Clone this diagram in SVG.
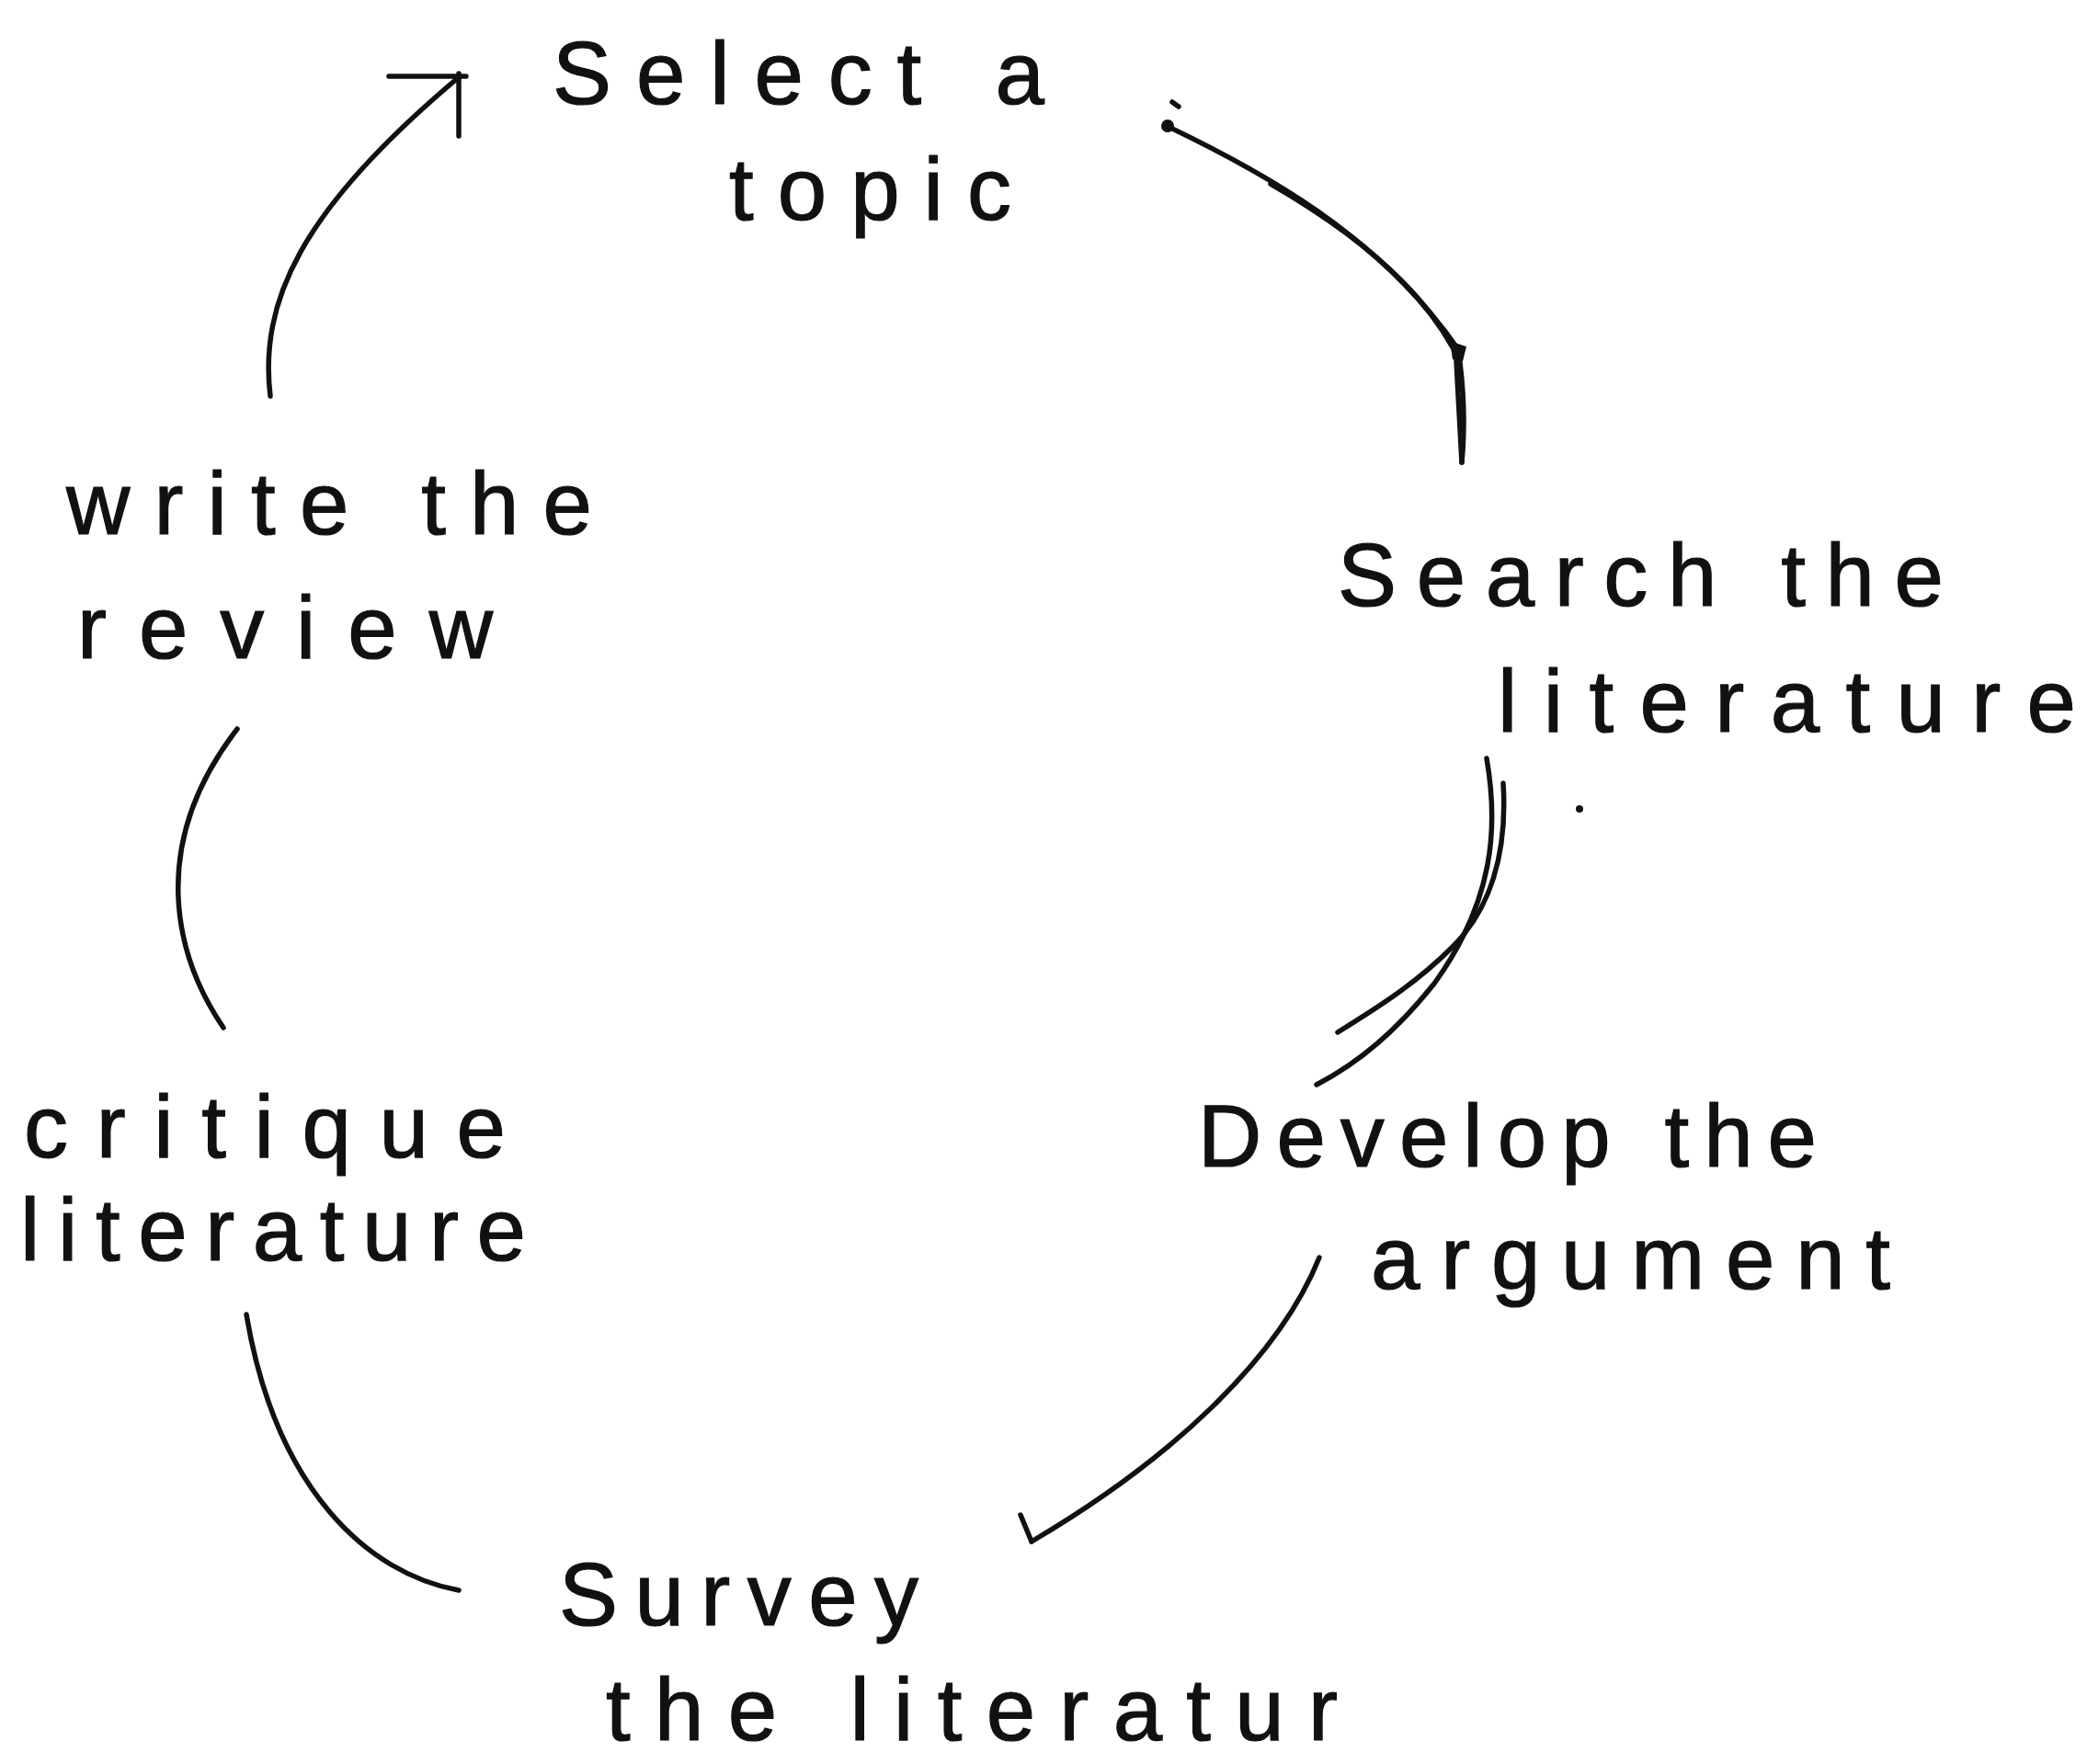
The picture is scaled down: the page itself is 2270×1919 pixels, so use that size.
<svg xmlns="http://www.w3.org/2000/svg" width="2270" height="1919" viewBox="0 0 2270 1919">
<style>
  .lbl { font-family: "Liberation Sans", "DejaVu Sans", sans-serif; font-size: 96px; fill: #111; stroke: #111; stroke-width: 1.2; }
  .ink { fill: none; stroke: #111; stroke-width: 5.5; stroke-linecap: round; stroke-linejoin: round; }
</style>
<rect width="2270" height="1919" fill="#fff"/>
<g id="connectors">
  <!-- write the review -> select a topic -->
  <path class="ink" d="M294,431 C282,330 325,230 499,84"/>
  <path class="ink" d="M423,83 L507,83 M499,80 L499,148"/>
  <!-- select a topic -> search the literature -->
  <path class="ink" d="M1267,136 C1370,185 1500,255 1586,380"/>
  <path class="ink" stroke-width="4" d="M1382,200 C1460,245 1540,305 1580,378"/>
  <path class="ink" d="M1586,380 C1592,420 1594,460 1590,503"/>
  <path class="ink" stroke-width="3.5" d="M1584,392 C1586,430 1588,470 1590,503"/>
  <path d="M1577,371 L1595,377 L1591,393 L1580,391 Z" fill="#111"/>
  <path class="ink" stroke-width="3.5" d="M1275,111 L1282,116"/>
  <circle cx="1270" cy="137" r="7" fill="#111"/>
  <!-- search the literature -> develop the argument -->
  <path class="ink" d="M1617,825 C1630,900 1625,980 1560,1070 C1520,1120 1480,1155 1432,1180"/>
  <path class="ink" stroke-width="4.5" d="M1635,852 C1640,930 1620,990 1580,1030 C1540,1070 1500,1095 1455,1123"/>
  <circle cx="1718" cy="880" r="4" fill="#111"/>
  <!-- develop the argument -> survey the literature -->
  <path class="ink" stroke-width="5" d="M1435,1368 C1390,1480 1270,1590 1122,1677"/>
  <path class="ink" stroke-width="3.5" d="M1122,1677 L1110,1648"/>
  <!-- survey the literature -> critique literature -->
  <path class="ink" d="M499,1730 C400,1712 300,1620 268,1430"/>
  <!-- critique literature -> write the review -->
  <path class="ink" d="M243,1118 C190,1040 160,920 258,793"/>
</g>
<g id="node-select-topic">
  <text class="lbl" x="601" y="113" textLength="535" lengthAdjust="spacing">Select a</text>
  <text class="lbl" x="793" y="239" textLength="307" lengthAdjust="spacing">topic</text>
</g>
<g id="node-search-literature">
  <text class="lbl" x="1455" y="659" textLength="659" lengthAdjust="spacing">Search the</text>
  <text class="lbl" x="1629" y="796" textLength="629" lengthAdjust="spacing">literature</text>
</g>
<g id="node-develop-argument">
  <text class="lbl" x="1303" y="1269" textLength="673" lengthAdjust="spacing">Develop the</text>
  <text class="lbl" x="1491" y="1402" textLength="565" lengthAdjust="spacing">argument</text>
</g>
<g id="node-survey-literature">
  <text class="lbl" x="608" y="1768" textLength="391" lengthAdjust="spacing">Survey</text>
  <text class="lbl" x="659" y="1893" textLength="796" lengthAdjust="spacing">the literatur</text>
</g>
<g id="node-critique-literature">
  <text class="lbl" x="26" y="1259" textLength="524" lengthAdjust="spacing">critique</text>
  <text class="lbl" x="22" y="1371" textLength="550" lengthAdjust="spacing">literature</text>
</g>
<g id="node-write-review">
  <text class="lbl" x="72" y="581" textLength="572" lengthAdjust="spacing">write the</text>
  <text class="lbl" x="84" y="716" textLength="452" lengthAdjust="spacing">review</text>
</g>
</svg>
